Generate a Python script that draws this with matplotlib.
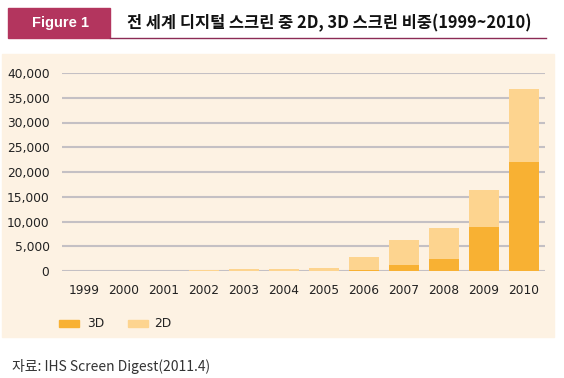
import numpy as np
import matplotlib.pyplot as plt
from matplotlib.patches import Rectangle
from matplotlib.lines import Line2D

plt.rcParams['font.family'] = ['Noto Sans CJK KR', 'DejaVu Sans']

# ── data ──────────────────────────────────────────────────────────────────────
years = ["1999", "2000", "2001", "2002", "2003", "2004",
         "2005", "2006", "2007", "2008", "2009", "2010"]
screens_3d = [0, 0, 0, 0, 0, 10, 50, 250, 1300, 2450, 8950, 22000]
screens_2d = [100, 100, 100, 250, 350, 390, 600, 2600, 5050, 6250, 7350, 14700]
yticks = [0, 5000, 10000, 15000, 20000, 25000, 30000, 35000, 40000]

title = "전 세계 디지털 스크린 중 2D, 3D 스크린 비중(1999~2010)"
source = "자료: IHS Screen Digest(2011.4)"

C3D = "#f8b133"
C2D = "#fdd48f"
PANEL = "#fdf2e3"
GRID = "#c4c0c4"
BADGE = "#b3355e"

W, H = 564, 378
fig = plt.figure(figsize=(W / 100, H / 100), dpi=100, facecolor="white")


def px(x0, y0, x1, y1):
    # pixel box (top-left origin) -> figure fraction rect
    return [x0 / W, 1 - y1 / H, (x1 - x0) / W, (y1 - y0) / H]


# header
fig.patches.append(Rectangle((8 / W, 1 - 38 / H), 102 / W, 30 / H,
                             transform=fig.transFigure, color=BADGE, zorder=1))
fig.text(60 / W, 1 - 23 / H, "Figure 1", color="white", fontsize=10.5,
         fontweight="bold", ha="center", va="center", family="Liberation Sans")
fig.lines.append(Line2D([110 / W, 546 / W], [1 - 38 / H, 1 - 38 / H],
                        transform=fig.transFigure, color="#8c2b55", lw=1.0))
fig.text(127 / W, 1 - 23 / H, title, fontsize=11.8, fontweight="bold",
         ha="left", va="center", color="#111111")

# panel background
fig.patches.append(Rectangle((2 / W, 1 - 337 / H), 552 / W, 283 / H,
                             transform=fig.transFigure, color=PANEL, zorder=-5))

# ── bars ──────────────────────────────────────────────────────────────────────
ax = fig.add_axes(px(62, 73, 545, 271))
ax.set_facecolor("none")
x = np.arange(len(years))
ax.bar(x, screens_3d, width=0.75, color=C3D, zorder=3)
ax.bar(x, screens_2d, bottom=screens_3d, width=0.75, color=C2D, zorder=3)

ax.set_xlim(-0.55, 11.53)
ax.set_ylim(0, 40000)
ax.set_yticks(yticks)
ax.set_yticklabels([f"{v:,}" for v in yticks])
ax.set_xticks(x)
ax.set_xticklabels(years)
ax.tick_params(axis="both", length=0, labelsize=8.8, colors="#222222")
ax.tick_params(axis="y", pad=9)
ax.tick_params(axis="x", pad=9)
for lab in ax.get_xticklabels() + ax.get_yticklabels():
    lab.set_family("DejaVu Sans")
for s in ax.spines.values():
    s.set_visible(False)
for v in yticks:
    ax.axhline(v, color=GRID, lw=1.5, zorder=1)

# legend
fig.patches.append(Rectangle((59 / W, 1 - 327 / H), 20 / W, 7 / H,
                             transform=fig.transFigure, color=C3D))
fig.text(87 / W, 1 - 323.5 / H, "3D", fontsize=8.8, va="center",
         color="#222222", family="DejaVu Sans")
fig.patches.append(Rectangle((128 / W, 1 - 327 / H), 20 / W, 7 / H,
                             transform=fig.transFigure, color=C2D))
fig.text(154 / W, 1 - 323.5 / H, "2D", fontsize=8.8, va="center",
         color="#222222", family="DejaVu Sans")

# source
fig.text(12 / W, 1 - 366 / H, source, fontsize=10, va="center",
         color="#333333")

plt.savefig("out.png", dpi=100)
